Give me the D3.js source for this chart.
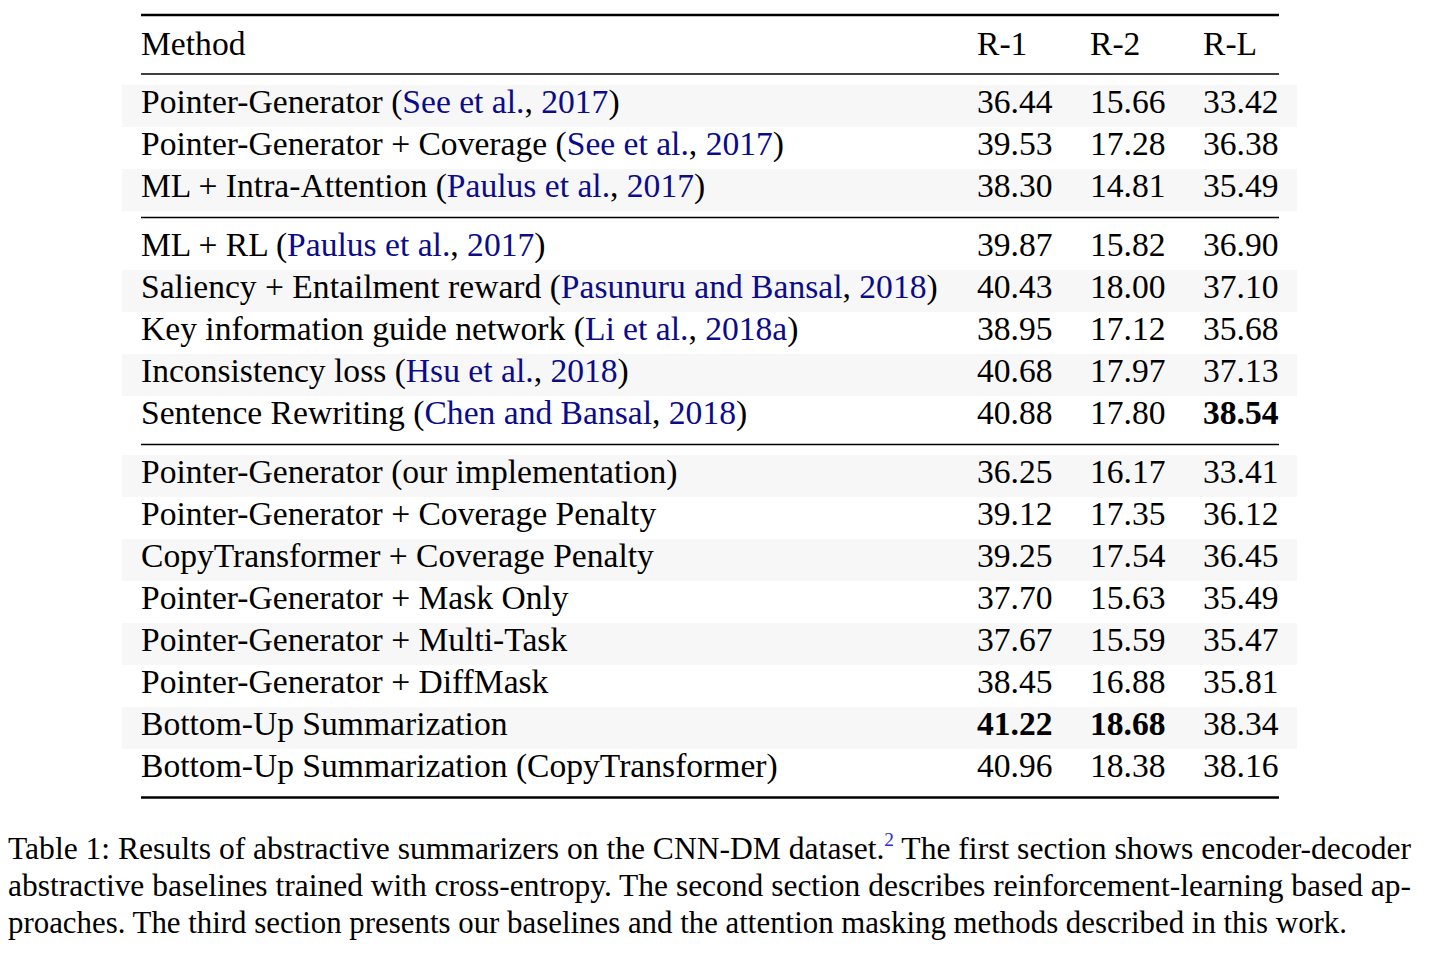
<!DOCTYPE html>
<html>
<head>
<meta charset="utf-8">
<script src="https://cdn.jsdelivr.net/npm/d3@7"></script>
<style>
  body { margin: 0; background: #fff; }
  text { font-family: "Liberation Serif", "Times New Roman", serif; }
</style>
</head>
<body>
<script>
var width = 1443, height = 953

var columns = ["R-1", "R-2", "R-L"]
var methods = ["Pointer-Generator", "Pointer-Generator + Coverage", "ML + Intra-Attention",
  "ML + RL", "Saliency + Entailment reward", "Key information guide network", "Inconsistency loss", "Sentence Rewriting",
  "Pointer-Generator (our implementation)", "Pointer-Generator + Coverage Penalty", "CopyTransformer + Coverage Penalty",
  "Pointer-Generator + Mask Only", "Pointer-Generator + Multi-Task", "Pointer-Generator + DiffMask",
  "Bottom-Up Summarization", "Bottom-Up Summarization (CopyTransformer)"]
var citeAuthors = ["See et al.", "See et al.", "Paulus et al.", "Paulus et al.", "Pasunuru and Bansal", "Li et al.", "Hsu et al.", "Chen and Bansal"]
var citeYears = ["2017", "2017", "2017", "2017", "2018", "2018a", "2018", "2018"]
var sectionOf = [0, 0, 0, 1, 1, 1, 1, 1, 2, 2, 2, 2, 2, 2, 2, 2]
var r1 = [36.44, 39.53, 38.30, 39.87, 40.43, 38.95, 40.68, 40.88, 36.25, 39.12, 39.25, 37.70, 37.67, 38.45, 41.22, 40.96]
var r2 = [15.66, 17.28, 14.81, 15.82, 18.00, 17.12, 17.97, 17.80, 16.17, 17.35, 17.54, 15.63, 15.59, 16.88, 18.68, 18.38]
var rl = [33.42, 36.38, 35.49, 36.90, 37.10, 35.68, 37.13, 38.54, 33.41, 36.12, 36.45, 35.49, 35.47, 35.81, 38.34, 38.16]
var caption = [
  "Table 1: Results of abstractive summarizers on the CNN-DM dataset.",
  "abstractive baselines trained with cross-entropy.  The second section describes reinforcement-learning based ap-",
  "proaches. The third section presents our baselines and the attention masking methods described in this work."
]
var captionTail = " The first section shows encoder-decoder"

var fs = 33.6, rowH = 42, sectionGap = 17
var left = 141, right = 1279
var linkColor = "#0c0c8a"

var svg = d3.select("body").append("svg")
    .attr("width", width)
    .attr("height", height)

var x = d3.scalePoint().domain(columns).range([977, 1203])
// row position: row index plus a gap for every section break
var y = d3.scaleLinear().domain([0, 1]).range([113, 113 + rowH])
function rowY(i) { return y(i + sectionOf[i] * sectionGap / rowH) }

var values = [r1, r2, rl]
var best = values.map(function(v) { return d3.max(v) })

// shaded rows
svg.selectAll("rect.band")
    .data(methods.map(function(d, i) { return i }).filter(function(i) { return i % 2 == 0 }))
  .enter().append("rect")
    .attr("x", 122)
    .attr("width", 1297 - 122)
    .attr("y", function(i) { return rowY(i) - 28 })
    .attr("height", rowH)
    .attr("fill", "#f7f7f7")

// rules
var lastOfSection = methods.map(function(d, i) { return i }).filter(function(i) {
  return i == methods.length - 1 || sectionOf[i + 1] != sectionOf[i]
})
var rules = [{y: 15, w: 2.6}, {y: rowY(0) - 39, w: 1.5}]
lastOfSection.forEach(function(i, k) {
  rules.push({y: rowY(i) + 20.5, w: k == lastOfSection.length - 1 ? 2.6 : 1.5})
})
svg.selectAll("line.rule")
    .data(rules)
  .enter().append("line")
    .attr("x1", left).attr("x2", right)
    .attr("y1", function(d) { return d.y }).attr("y2", function(d) { return d.y })
    .attr("stroke", "#000")
    .attr("stroke-width", function(d) { return d.w })

// header
svg.append("text").attr("x", left).attr("y", 55).attr("font-size", fs).text("Method")
svg.selectAll("text.head")
    .data(columns)
  .enter().append("text")
    .attr("x", function(d) { return x(d) })
    .attr("y", 55)
    .attr("font-size", fs)
    .text(function(d) { return d })

// method cells
var cell = svg.selectAll("text.method")
    .data(methods)
  .enter().append("text")
    .attr("x", left)
    .attr("y", function(d, i) { return rowY(i) })
    .attr("font-size", fs)
cell.each(function(d, i) {
  var t = d3.select(this)
  if (citeAuthors[i]) {
    t.append("tspan").text(d + " (")
    t.append("tspan").attr("fill", linkColor).text(citeAuthors[i])
    t.append("tspan").text(", ")
    t.append("tspan").attr("fill", linkColor).text(citeYears[i])
    t.append("tspan").text(")")
  } else {
    t.text(d)
  }
})

// score cells
columns.forEach(function(c, k) {
  svg.selectAll("text.v" + k)
      .data(values[k])
    .enter().append("text")
      .attr("x", x(c))
      .attr("y", function(d, i) { return rowY(i) })
      .attr("font-size", fs)
      .attr("font-weight", function(d) { return d == best[k] ? "bold" : "normal" })
      .text(function(d) { return d.toFixed(2) })
})

// caption, justified lines
var capFs = 31
var cap = svg.append("g").attr("font-size", capFs).style("white-space", "pre")
var l1 = cap.append("text").attr("x", 8).attr("y", 859)
l1.append("tspan").text(caption[0])
l1.append("tspan").attr("font-size", 19).attr("dy", -13).attr("fill", "#2a2ad0").text("2")
l1.append("tspan").attr("dy", 13).text(captionTail)
l1.attr("textLength", 1403).attr("lengthAdjust", "spacingAndGlyphs")
cap.append("text").attr("x", 8).attr("y", 896)
    .attr("textLength", 1403).attr("lengthAdjust", "spacingAndGlyphs")
    .text(caption[1])
cap.append("text").attr("x", 8).attr("y", 933)
    .attr("textLength", 1339).attr("lengthAdjust", "spacingAndGlyphs")
    .text(caption[2])
</script>
</body>
</html>
